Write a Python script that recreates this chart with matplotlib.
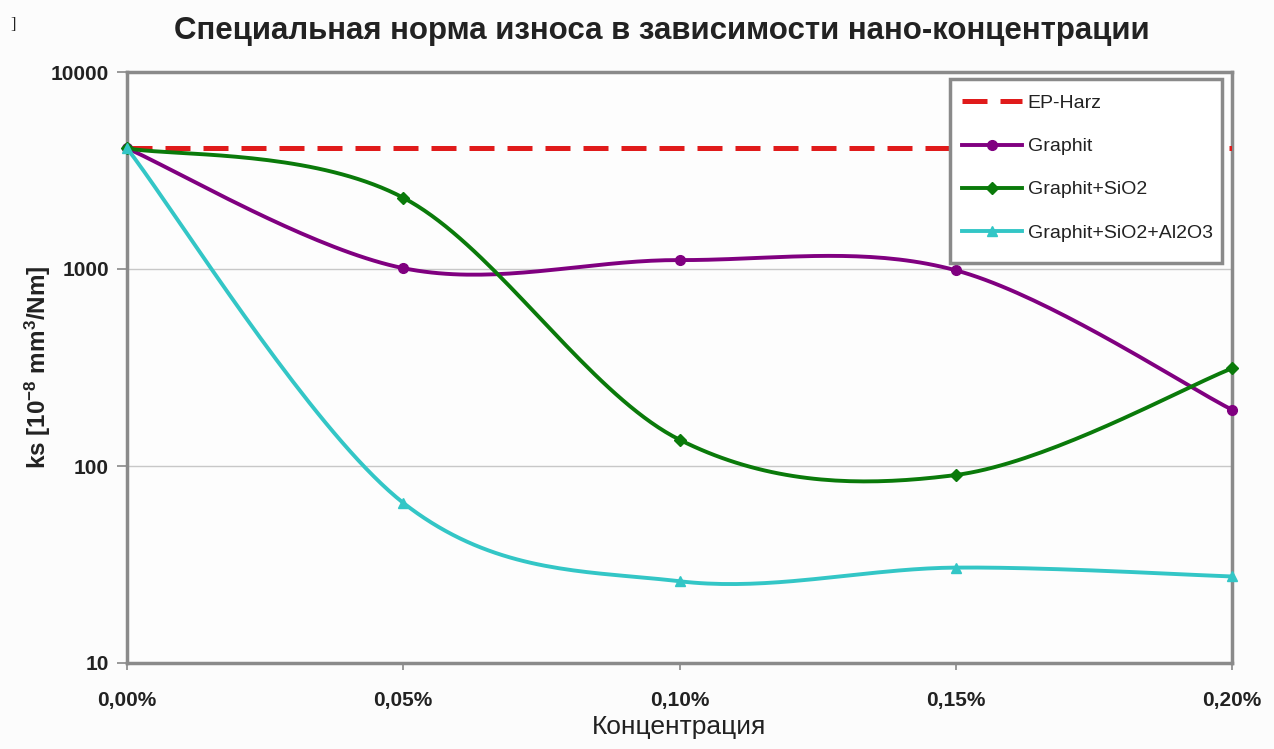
import numpy as np
import matplotlib
matplotlib.use("Agg")
import matplotlib.pyplot as plt
from matplotlib.patches import Rectangle
from matplotlib.ticker import FixedLocator, NullLocator

plt.rcParams['font.family'] = ['Liberation Sans', 'DejaVu Sans']
plt.rcParams['mathtext.default'] = 'regular'

# Concentration (percent) and specific wear rate ks [10^-8 mm^3/Nm]
concentration = [0.00, 0.05, 0.10, 0.15, 0.20]
tick_labels = ["0,00%", "0,05%", "0,10%", "0,15%", "0,20%"]
ep_harz = [4100, 4100, 4100, 4100, 4100]
graphit = [4100, 1010, 1110, 985, 193]
graphit_sio2 = [4100, 2300, 136, 90, 313]
graphit_sio2_al2o3 = [4100, 65, 26, 30.5, 27.5]


def smooth(xs, ys, steps=40):
    """Bezier smoothing through every point (Catmull-Rom style), in log-y space."""
    x = np.asarray(xs, float)
    y = np.log10(np.asarray(ys, float))
    n = len(x)
    px, py = [], []
    for i in range(n - 1):
        i0, i2 = max(i - 1, 0), min(i + 2, n - 1)
        p0 = np.array([x[i], y[i]])
        p3 = np.array([x[i + 1], y[i + 1]])
        c1 = p0 + (np.array([x[i + 1], y[i + 1]]) - np.array([x[i0], y[i0]])) / 6
        c2 = p3 - (np.array([x[i2], y[i2]]) - np.array([x[i], y[i]])) / 6
        t = np.linspace(0, 1, steps)[:, None]
        pts = ((1 - t) ** 3) * p0 + 3 * ((1 - t) ** 2) * t * c1 + 3 * (1 - t) * t ** 2 * c2 + t ** 3 * p3
        px.extend(pts[:, 0])
        py.extend(pts[:, 1])
    return np.array(px), 10 ** np.array(py)


W, H = 1274, 749
fig = plt.figure(figsize=(W / 100, H / 100), dpi=100, facecolor='#fcfcfc')
ax = fig.add_axes([127 / W, 1 - 663 / H, (1232 - 127) / W, (663 - 72) / H])
ax.set_facecolor('#fdfdfd')

ax.set_yscale('log')
ax.set_ylim(10, 10000)
ax.set_xlim(0, 0.20)

ax.yaxis.set_major_locator(FixedLocator([10, 100, 1000, 10000]))
ax.yaxis.set_minor_locator(NullLocator())
ax.set_yticklabels(["10", "100", "1000", "10000"])
ax.set_xticks(concentration)
ax.set_xticklabels(tick_labels)

for lbl in ax.get_xticklabels() + ax.get_yticklabels():
    lbl.set_fontweight('bold')
    lbl.set_fontsize(15)
    lbl.set_color('#222222')
ax.tick_params(axis='y', length=7, width=1.2, color='#888888', pad=6)
ax.tick_params(axis='x', length=5, width=1.2, color='#888888', pad=15)

ax.grid(axis='y', color='#c8c8c8', linewidth=1.0)
ax.set_axisbelow(True)
for sp in ax.spines.values():
    sp.set_color('#8a8a8a')
    sp.set_linewidth(2.5)

# reference resin
ax.plot(concentration, ep_harz, color='#e01b1b', linewidth=3.6, dashes=(5, 2.6),
        label='EP-Harz', zorder=3)

series = [
    (graphit, '#800080', 'o', 7, 'Graphit'),
    (graphit_sio2, '#0a7a0a', 'D', 6.5, 'Graphit+SiO2'),
    (graphit_sio2_al2o3, '#33c6c6', '^', 7, 'Graphit+SiO2+Al2O3'),
]
for vals, col, mk, ms, name in series:
    sx, sy = smooth(concentration, vals)
    ax.plot(sx, sy, color=col, linewidth=2.8, zorder=4, solid_capstyle='round')
    ax.plot(concentration, vals, linestyle='none', marker=mk, markersize=ms,
            color=col, zorder=5, clip_on=False)
    ax.plot([], [], color=col, linewidth=2.8, marker=mk, markersize=ms, label=name)

# legend frame
x0 = (950 - 127) / 1105
x1 = (1222 - 127) / 1105
y1 = (663 - 79) / 591
y0 = (663 - 263) / 591
ax.add_patch(Rectangle((x0, y0), x1 - x0, y1 - y0, transform=ax.transAxes,
                       facecolor='white', edgecolor='#8a8a8a', linewidth=2.5, zorder=6))
leg = ax.legend(loc='upper left', bbox_to_anchor=(x0 - 0.008, y1 + 0.008), frameon=False,
                fontsize=14, handlelength=3.1, handletextpad=0.3, labelspacing=1.31,
                borderpad=0.55)
leg.set_zorder(7)
for t in leg.get_texts():
    t.set_color('#222222')

fig.text(662 / W, 1 - 31 / H, 'Специальная норма износа в зависимости нано-концентрации',
         fontsize=22.5, fontweight='bold', color='#222222', ha='center', va='center')

ax.set_xlabel('Концентрация', fontsize=19, color='#222222', va='center')
ax.xaxis.set_label_coords(0.5, (663 - 727) / 591)
ax.set_ylabel(r'ks [10$^{-8}$ mm$^3$/Nm]', fontsize=17.5, fontweight='bold',
              color='#222222', va='center')
ax.yaxis.set_label_coords((38 - 127) / 1105, 0.5)

fig.text(10 / W, 1 - 25 / H, ']', family='Liberation Serif', fontsize=12,
         color='#222222', va='center')

fig.savefig('out.png', dpi=100, facecolor=fig.get_facecolor())
